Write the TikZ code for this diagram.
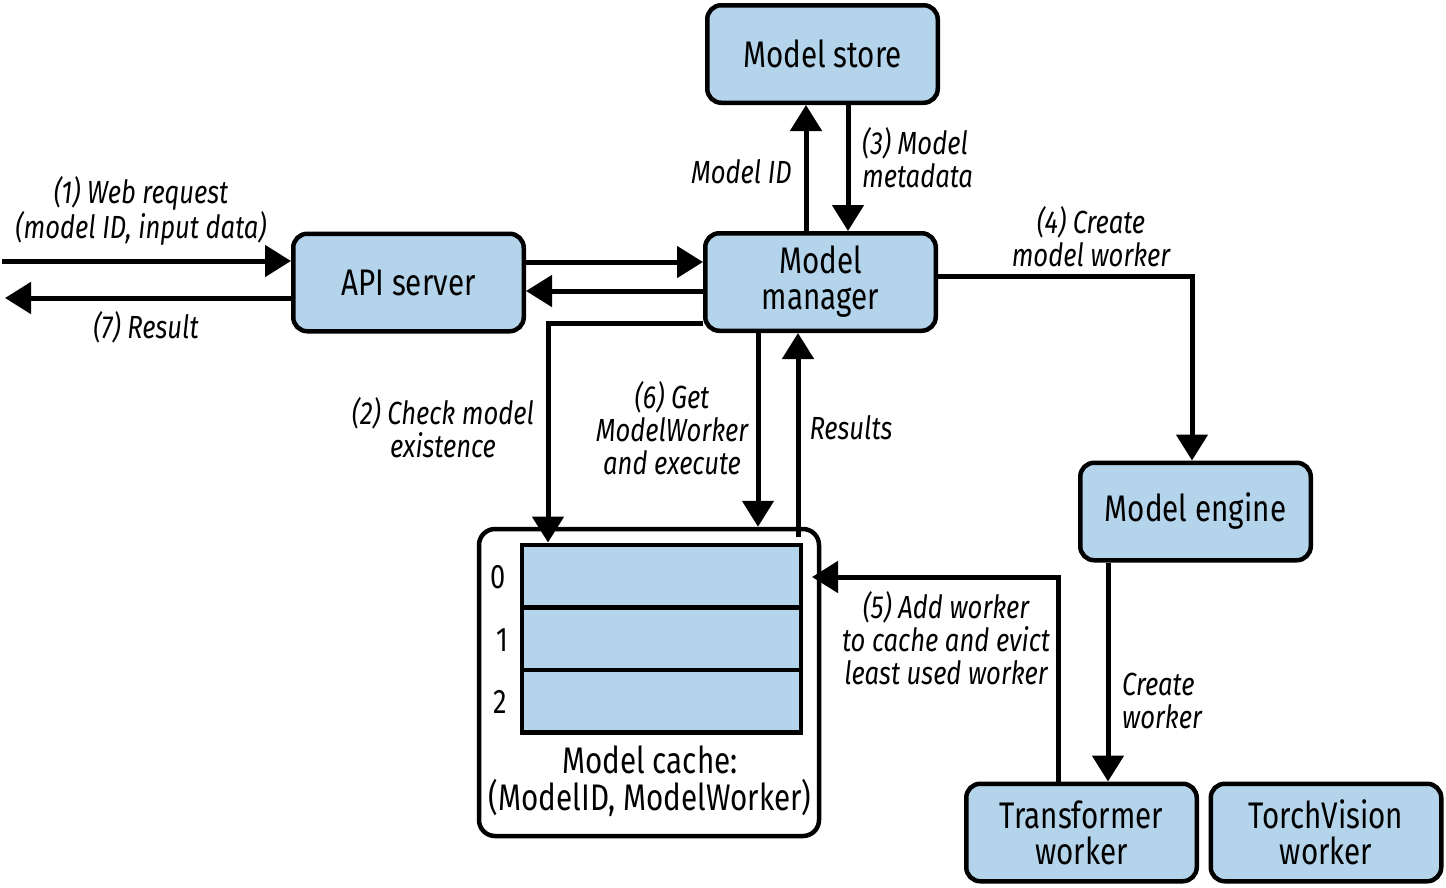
\documentclass[tikz,border=0pt]{standalone}
\usepackage{fontspec}
\setmainfont{Fira Sans}[FakeStretch=0.8]
\usetikzlibrary{arrows.meta}
\definecolor{boxblue}{RGB}{180,212,235}
\begin{document}
\begin{tikzpicture}[x=1pt,y=-1pt,
 box/.style={draw, line width=4.5pt, fill=boxblue, rounded corners=14pt, minimum width=230.5pt, minimum height=97.5pt, align=center, font=\fontsize{37}{36}\selectfont, inner sep=0pt},
 lab/.style={font=\fontsize{32}{33}\selectfont\itshape, align=center, inner sep=0pt},
 idx/.style={font=\fontsize{34}{34}\selectfont, inner sep=0pt},
 arr/.style={line width=5pt, -{Triangle[length=26pt,width=31pt]}},
 row/.style={draw, line width=4.5pt, fill=boxblue, minimum width=279pt, minimum height=62.5pt, inner sep=0pt}]
\useasboundingbox (0,0) rectangle (1446,887);

% boxes
\node[box] (ms) at (822.5,54) {Model store};
\node[box] (api) at (408.5,282.5) {API server};
\node[box] (mm) at (820.5,282) {Model\\manager};
\node[box] (me) at (1195.5,511.5) {Model engine};
\node[box] (tw) at (1081.5,832.5) {Transformer\\worker};
\node[box] (tv) at (1326,832.5) {TorchVision\\worker};

% cache
\node[draw, line width=4.5pt, fill=white, rounded corners=16pt, minimum width=340pt, minimum height=307pt, inner sep=0pt] (cache) at (649,682.5) {};
\node[row] (r0) at (661.5,576) {};
\node[row] (r1) at (661.5,638.5) {};
\node[row] (r2) at (661.5,701) {};
\node[idx] (i0) at (498,577) {0};
\node[idx] (i1) at (502,640) {1};
\node[idx] (i2) at (500,702) {2};
\node[font=\fontsize{37}{37}\selectfont, align=center, inner sep=0pt] (cl) at (650,781) {Model cache:\\(ModelID, ModelWorker)};

% coordinates
\coordinate (win) at (2,261);
\coordinate (rout) at (5,298);
\coordinate (c262) at (0,262);
\coordinate (c291) at (0,291);
\coordinate (c806) at (806,0);
\coordinate (c848) at (848,0);
\coordinate (c276) at (0,276);
\coordinate (c1192) at (1192,0);
\coordinate (c323) at (0,323);
\coordinate (c548) at (548,0);
\coordinate (c758) at (758,0);
\coordinate (res0) at (798,537);
\coordinate (c1058) at (1058,0);
\coordinate (add5) at (812,577);
\coordinate (c1108) at (1108,0);

% connectors
\draw[arr] (win) -- (win -| api.west);
\draw[arr] (api.west |- rout) -- (rout);
\draw[arr] (api.east |- c262) -- (mm.west |- c262);
\draw[arr] (mm.west |- c291) -- (api.east |- c291);
\draw[arr] (mm.north -| c806) -- (ms.south -| c806);
\draw[arr] (ms.south -| c848) -- (mm.north -| c848);
\draw[arr] (mm.east |- c276) -| (me.north -| c1192);
\draw[arr] (mm.west |- c323) -| (r0.north -| c548);
\draw[arr] (mm.south -| c758) -- (cache.north -| c758);
\draw[arr] (res0) -- (mm.south -| res0);
\draw[arr] (tw.north -| c1058) |- (add5);
\draw[arr] (me.south -| c1108) -- (tw.north -| c1108);

% labels
\node[lab] (l1) at (141,211) {(1) Web request\\(model ID, input data)};
\node[lab] (l7) at (146,327) {(7) Result};
\node[lab, anchor=east] (lid) at (792,172) {Model ID};
\node[lab, align=left, anchor=west] (l3) at (862,158) {(3) Model\\metadata};
\node[lab] (l4) at (1091,237) {(4) Create\\model worker};
\node[lab] (l2) at (443,428) {(2) Check model\\existence};
\node[lab] (l6) at (672,428) {(6) Get\\ModelWorker\\and execute};
\node[lab] (lr) at (851,428) {Results};
\node[lab] (l5) at (946,638) {(5) Add worker\\to cache and evict\\least used worker};
\node[lab, align=left, anchor=west] (lc) at (1122,701) {Create\\worker};
\end{tikzpicture}
\end{document}
